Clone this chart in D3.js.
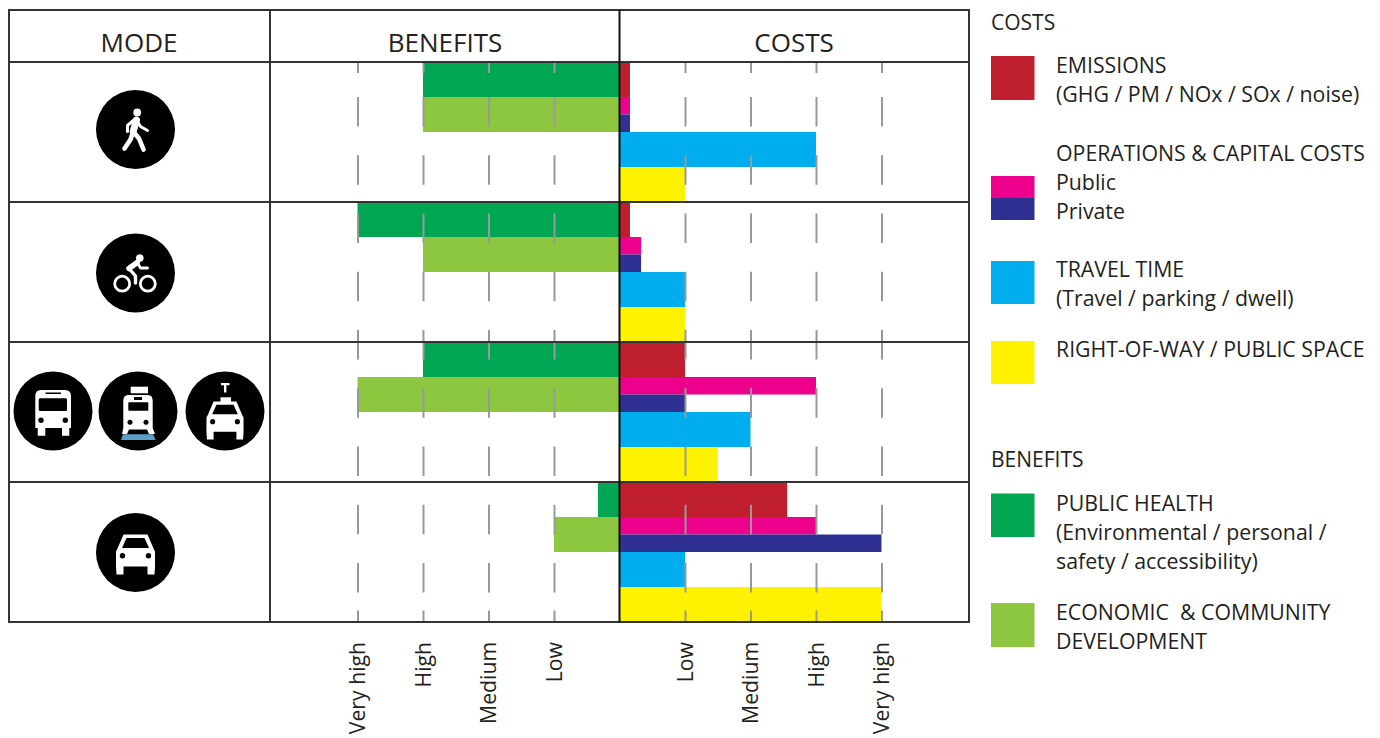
<!DOCTYPE html>
<html>
<head>
<meta charset="utf-8">
<script src="https://cdn.jsdelivr.net/npm/d3@7"></script>
<style>
  html, body { margin: 0; padding: 0; background: #fff; overflow: hidden; }
  text { font-family: "Open Sans", sans-serif; fill: #231f20; }
</style>
</head>
<body>
<div id="chart"></div>
<script>
// values, 0 = nothing, 1 = low ... 4 = very high
let modes = ["walk", "bike", "transit", "car"];

let health = [3, 4, 3, 0.33];
let economic = [3, 3, 4, 1];

let emissions = [0.16, 0.16, 1, 2.56];
let opsPublic = [0.16, 0.33, 3, 3];
let opsPrivate = [0.16, 0.33, 1, 4];
let travelTime = [3, 1, 2, 1];
let rightOfWay = [1, 1, 1.5, 4];

let tickValues = [-4, -3, -2, -1, 1, 2, 3, 4];
let tickLabels = ["Very high", "High", "Medium", "Low", "Low", "Medium", "High", "Very high"];

let headers = ["MODE", "BENEFITS", "COSTS"];

let w = 1380, h = 738;
let plotTop = 62, plotBottom = 622, tableTop = 10, tableLeft = 9, tableRight = 969, modeRight = 270;

let red = "#be1e2d", magenta = "#ec008c", navy = "#2e3192", blue = "#00aeef",
    yellow = "#fff200", green = "#00a651", lime = "#8dc63f";

let viz = d3.select("#chart").append("svg")
    .attr("width", w)
    .attr("height", h)
;

let xScale = d3.scaleLinear().domain([-4, 4]).range([357.5, 881.5]);
let rowScale = d3.scaleBand().domain(modes).range([plotTop, plotBottom]);
// each row is cut in 8 slots, the two operations bars take one each, all the others two
let slotScale = d3.scaleLinear().domain([0, 8]).range([0, rowScale.bandwidth()]);

let series = [
  { values: emissions, color: red, side: 1, start: 0, slots: 2 },
  { values: opsPublic, color: magenta, side: 1, start: 2, slots: 1 },
  { values: opsPrivate, color: navy, side: 1, start: 3, slots: 1 },
  { values: travelTime, color: blue, side: 1, start: 4, slots: 2 },
  { values: rightOfWay, color: yellow, side: 1, start: 6, slots: 2 },
  { values: health, color: green, side: -1, start: 0, slots: 2 },
  { values: economic, color: lime, side: -1, start: 2, slots: 2 }
];

// bars
series.forEach(function(s){
  viz.append("g").selectAll("rect")
    .data(s.values)
    .enter()
    .append("rect")
      .attr("x", function(d){ return s.side > 0 ? xScale(0) : xScale(-d) })
      .attr("y", function(d, i){ return rowScale(modes[i]) + slotScale(s.start) })
      .attr("width", function(d){ return Math.abs(xScale(d) - xScale(0)) })
      .attr("height", slotScale(s.slots))
      .attr("fill", s.color)
  ;
});

// dashes and rotated labels come from the axis
let dashes = "11 24 " + d3.range(8).map(function(){ return "29.5 28.75" }).join(" ") + " 29.5 18 12 10";
let xAxis = d3.axisBottom(xScale)
    .tickValues(tickValues)
    .tickSize(plotBottom - plotTop)
    .tickFormat(function(d, i){ return tickLabels[i] })
;
let xAxisGroup = viz.append("g")
    .attr("class", "xaxisgroup")
    .attr("transform", "translate(0," + plotTop + ")")
    .call(xAxis)
;
xAxisGroup.select(".domain").remove();
xAxisGroup.selectAll("line")
    .attr("stroke", "#999")
    .attr("stroke-width", 2)
    .attr("stroke-dasharray", dashes)
;
xAxisGroup.selectAll("text")
    .attr("x", 0)
    .attr("y", 0)
    .attr("dy", "0.35em")
    .attr("transform", "translate(0," + (642 - plotTop) + ") rotate(-90)")
    .attr("text-anchor", "end")
    .style("font-size", "21.2px")
    .style("font-family", "'Open Sans', sans-serif")
    .attr("fill", "#231f20")
;

// table
let lineColor = "#333";
let rowLines = modes.map(function(m){ return rowScale(m) }).concat([plotBottom]);
viz.append("g").selectAll("line")
  .data(rowLines)
  .enter()
  .append("line")
    .attr("x1", tableLeft)
    .attr("x2", tableRight)
    .attr("y1", function(d){ return d })
    .attr("y2", function(d){ return d })
    .attr("stroke", lineColor)
    .attr("stroke-width", 2)
;
viz.append("rect")
    .attr("x", tableLeft)
    .attr("y", tableTop)
    .attr("width", tableRight - tableLeft)
    .attr("height", plotBottom - tableTop)
    .attr("fill", "none")
    .attr("stroke", lineColor)
    .attr("stroke-width", 2)
;
viz.append("line")
    .attr("x1", modeRight)
    .attr("x2", modeRight)
    .attr("y1", tableTop)
    .attr("y2", plotBottom)
    .attr("stroke", lineColor)
    .attr("stroke-width", 2)
;
viz.append("line")
    .attr("x1", xScale(0))
    .attr("x2", xScale(0))
    .attr("y1", tableTop)
    .attr("y2", plotBottom)
    .attr("stroke", "#111")
    .attr("stroke-width", 2)
;

// headers
let headerX = [139, 445, 794];
viz.append("g").selectAll("text")
  .data(headers)
  .enter()
  .append("text")
    .text(function(d){ return d })
    .attr("x", function(d, i){ return headerX[i] })
    .attr("y", 52)
    .attr("text-anchor", "middle")
    .style("font-size", "26px")
;

// legend
let legendTitles = [
  { text: "COSTS", y: 30 },
  { text: "BENEFITS", y: 467 }
];
let legendBoxes = [
  { color: red, y: 56, h: 44 },
  { color: magenta, y: 176, h: 22 },
  { color: navy, y: 198, h: 22 },
  { color: blue, y: 261, h: 43 },
  { color: yellow, y: 341, h: 43 },
  { color: green, y: 493.5, h: 43.5 },
  { color: lime, y: 603, h: 44 }
];
let legendLines = [
  { text: "EMISSIONS", y: 73 },
  { text: "(GHG / PM / NOx / SOx / noise)", y: 102 },
  { text: "OPERATIONS & CAPITAL COSTS", y: 161 },
  { text: "Public", y: 190 },
  { text: "Private", y: 219 },
  { text: "TRAVEL TIME", y: 277 },
  { text: "(Travel / parking / dwell)", y: 306 },
  { text: "RIGHT-OF-WAY / PUBLIC SPACE", y: 357 },
  { text: "PUBLIC HEALTH", y: 511 },
  { text: "(Environmental / personal /", y: 540 },
  { text: "safety / accessibility)", y: 569 },
  { text: "ECONOMIC  & COMMUNITY", y: 620 },
  { text: "DEVELOPMENT", y: 649 }
];
viz.append("g").selectAll("rect")
  .data(legendBoxes)
  .enter()
  .append("rect")
    .attr("x", 991)
    .attr("y", function(d){ return d.y })
    .attr("width", 43.5)
    .attr("height", function(d){ return d.h })
    .attr("fill", function(d){ return d.color })
;
viz.append("g").selectAll("text")
  .data(legendTitles)
  .enter()
  .append("text")
    .text(function(d){ return d.text })
    .attr("x", 991)
    .attr("y", function(d){ return d.y })
    .style("font-size", "21px")
;
viz.append("g").selectAll("text")
  .data(legendLines)
  .enter()
  .append("text")
    .text(function(d){ return d.text })
    .attr("x", 1056)
    .attr("y", function(d){ return d.y })
    .style("white-space", "pre")
    .style("font-size", "21.3px")
;

// icons, drawn around the centre of a black disc
function disc(cx, cy){
  let g = viz.append("g").attr("transform", "translate(" + cx + "," + cy + ")");
  g.append("circle").attr("r", 39.5).attr("fill", "#000");
  return g;
}
function limb(g, d, width){
  g.append("path")
      .attr("d", d)
      .attr("fill", "none")
      .attr("stroke", "#fff")
      .attr("stroke-width", width)
      .attr("stroke-linecap", "round")
      .attr("stroke-linejoin", "round")
  ;
}
function drawCar(g, dy, s){
  let c = g.append("g").attr("transform", "translate(0," + dy + ") scale(" + s + ")");
  c.append("path")
      .attr("d", "M-12,-18 L12,-18 L18,-4 L19.5,-1 L19.5,14 L19,22 L12,22 L12,14 L-12,14 L-12,22 L-19,22 L-19.5,14 L-19.5,-1 L-18,-4 Z")
      .attr("fill", "#fff");
  c.append("path")
      .attr("d", "M-9,-14.5 L9,-14.5 L13.5,-4.5 L-13.5,-4.5 Z")
      .attr("fill", "#000");
  c.append("circle").attr("cx", -13).attr("cy", 3.3).attr("r", 2.7).attr("fill", "#000");
  c.append("circle").attr("cx", 13).attr("cy", 3.3).attr("r", 2.7).attr("fill", "#000");
}

let walk = disc(135.5, 129.5);
walk.append("circle").attr("cx", 1.7).attr("cy", -17).attr("r", 3.9).attr("fill", "#fff");
limb(walk, "M1,-9.5 L-2.3,2", 7);
limb(walk, "M-2.3,2 L-5,10 L-11,19", 4.6);
limb(walk, "M-2.3,2 L3.5,9 L8,20", 4.6);
limb(walk, "M0,-11 L-8,-4 L-8,2", 3);
limb(walk, "M0,-11 L5,-3 L12,1", 3);

let bike = disc(135.5, 273);
bike.append("circle").attr("cx", 4.3).attr("cy", -15).attr("r", 3.8).attr("fill", "#fff");
[-13.3, 12.3].forEach(function(x){
  bike.append("circle").attr("cx", x).attr("cy", 10.7).attr("r", 7.5)
      .attr("fill", "none").attr("stroke", "#fff").attr("stroke-width", 2.8);
});
limb(bike, "M1.7,-10.5 L-6.5,-4.5", 5.5);
limb(bike, "M-6.5,-4.5 L0,3 L0,10", 3.4);
limb(bike, "M1.7,-10.5 L5,-5 L12,-5", 2.8);

let bus = disc(53, 411);
bus.append("path")
    .attr("d", "M-12,-21 L12,-21 Q18,-21 18,-15 L18,17 L16.3,17 L16.3,24.7 L9,24.7 L9,17 L-7.7,17 L-7.7,24.7 L-15.3,24.7 L-15.3,17 L-17.7,17 L-17.7,-15 Q-17.7,-21 -12,-21 Z")
    .attr("fill", "#fff");
bus.append("rect").attr("x", -14.3).attr("y", -12.7).attr("width", 28.3).attr("height", 12.7).attr("rx", 1.5).attr("fill", "#000");
bus.append("rect").attr("x", -7.5).attr("y", -18.5).attr("width", 15.5).attr("height", 1.5).attr("fill", "#000");
[-12, 12.3].forEach(function(x){
  bus.append("circle").attr("cx", x).attr("cy", 9.3).attr("r", 2.7).attr("fill", "#000");
});

let tram = disc(138, 411);
tram.append("rect").attr("x", -7.3).attr("y", -24.3).attr("width", 17.3).attr("height", 6.6).attr("fill", "#fff");
tram.append("path")
    .attr("d", "M-10,-16 L10,-16 Q14.7,-16 14.7,-10 L14.7,17 L17,23 L11,23 L9,18.5 L-9,18.5 L-11,23 L-16,23 L-14.7,17 L-14.7,-10 Q-14.7,-16 -10,-16 Z")
    .attr("fill", "#fff");
tram.append("rect").attr("x", -9.7).attr("y", -8.7).attr("width", 20).attr("height", 8.4).attr("rx", 1).attr("fill", "#000");
tram.append("rect").attr("x", -4).attr("y", -14).attr("width", 8).attr("height", 3).attr("fill", "#000");
[-8, 8].forEach(function(x){
  tram.append("circle").attr("cx", x).attr("cy", 11.3).attr("r", 2.5).attr("fill", "#000");
});
tram.append("path")
    .attr("d", "M-15,23.3 L15,23.3 L17.7,29 L-17,29 Z")
    .attr("fill", "#5a9fc8");

let taxi = disc(225, 411);
taxi.append("path")
    .attr("d", "M-4,-28 L4.5,-28 L4.5,-25.7 L1.4,-25.7 L1.4,-18.5 L-1,-18.5 L-1,-25.7 L-4,-25.7 Z")
    .attr("fill", "#fff");
taxi.append("rect").attr("x", -4.5).attr("y", -13.7).attr("width", 10.5).attr("height", 5).attr("fill", "#fff");
drawCar(taxi, 7.5, 0.95);

let car = disc(135.5, 552.5);
drawCar(car, 0, 1);
</script>
</body>
</html>
